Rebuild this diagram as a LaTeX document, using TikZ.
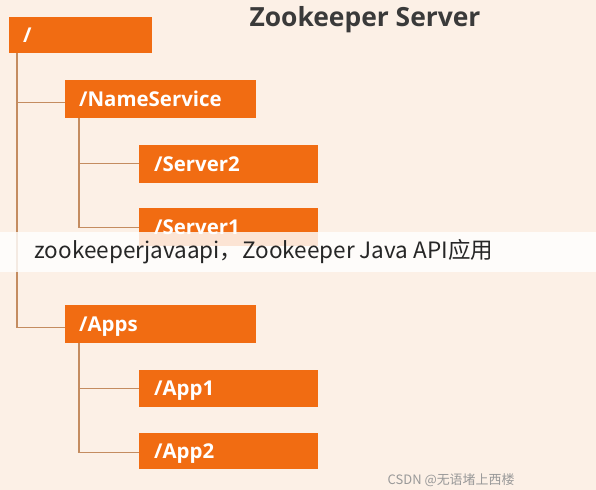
\documentclass[tikz,border=0pt]{standalone}
\usepackage{fontspec}
\setmainfont{Open Sans}
\newfontfamily\cjk{Noto Sans CJK SC}
\usetikzlibrary{calc}

\definecolor{zkbg}{RGB}{252,240,230}
\definecolor{zkorange}{RGB}{241,108,18}
\definecolor{zkline}{RGB}{196,140,96}
\definecolor{zktitle}{RGB}{58,58,58}

\tikzset{
  znode/.style={fill=zkorange, text=white, font=\bfseries\fontsize{20.5}{22}\selectfont,
    anchor=north west, inner sep=0pt, text height=17bp, text depth=3bp,
    align=left, text width=#1},
  branch/.style={draw=zkline, line width=1.3bp}
}

\begin{document}
\begin{tikzpicture}[x=1bp,y=-1bp]
\useasboundingbox (0,0) rectangle (596,490);
\fill[zkbg] (0,0) rectangle (596,490);

% nodes of the tree
\node[znode=143bp, minimum height=36bp] (root) at (9,17) {\hspace{14bp}/};
\node[znode=191bp, minimum height=38bp] (names) at (65,80) {\hspace{14bp}/NameService};
\node[znode=179bp, minimum height=38bp] (srvtwo) at (139,145) {\hspace{15bp}/Server2};
\node[znode=179bp, minimum height=38bp] (srvone) at (139,208) {\hspace{15bp}/Server1};
\node[znode=191bp, minimum height=38bp] (apps) at (65,305) {\hspace{14bp}/Apps};
\node[znode=179bp, minimum height=37bp] (appone) at (139,370) {\hspace{15bp}/App1};
\node[znode=179bp, minimum height=36bp] (apptwo) at (139,433) {\hspace{15bp}/App2};

\node[text=zktitle, font=\bfseries\fontsize{26.5}{28}\selectfont] (title) at (365,20) {Zookeeper Server};

% connectors
\draw[branch] ([xshift=8bp]root.south west) |- ($(names.west)+(0,3)$);
\draw[branch] ([xshift=8bp]root.south west) |- ($(apps.west)+(0,3)$);
\draw[branch] ([xshift=14bp]names.south west) |- ($(srvtwo.west)+(0,-1)$);
\draw[branch] ([xshift=14bp]names.south west) |- ($(srvone.west)+(0,0)$);
\draw[branch] ([xshift=14bp]apps.south west) |- ($(appone.west)+(0,0)$);
\draw[branch] ([xshift=14bp]apps.south west) |- ($(apptwo.west)+(0,1)$);

% banner and watermark
\fill[white, opacity=0.82] (0,232) rectangle (596,272);
\node[font=\cjk\fontsize{22.6}{24}\selectfont, text=black!85, anchor=west] (banner) at (31,252)
  {zookeeperjavaapi，Zookeeper Java API应用};
\node[font=\cjk\fontsize{13}{15}\selectfont, text=black!40, anchor=east] (mark) at (518,480)
  {CSDN @无语堵上西楼};
\end{tikzpicture}
\end{document}
